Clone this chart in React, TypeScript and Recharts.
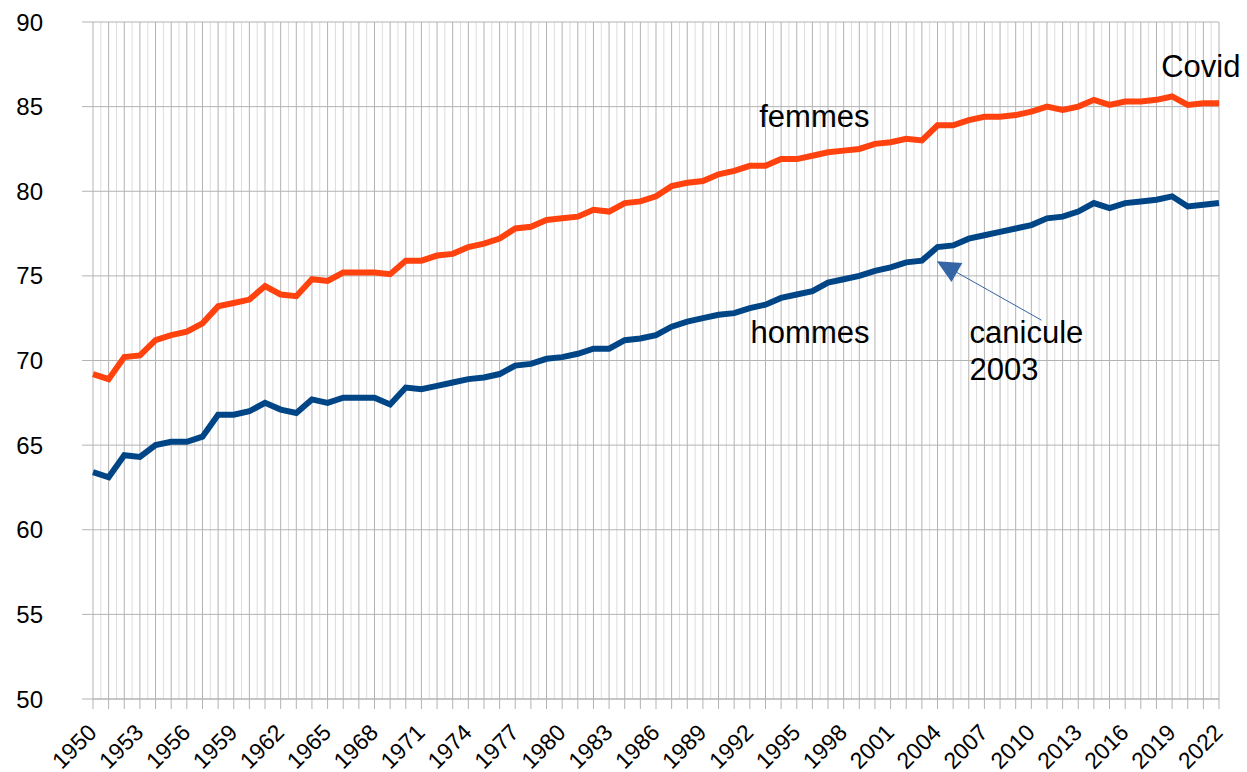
import React from 'react';
import {
  LineChart,
  Line,
  XAxis,
  YAxis,
  CartesianGrid,
  ReferenceDot,
  ReferenceLine,
} from 'recharts';

const FIRST_YEAR = 1950;
const LAST_YEAR = 2022;

const years: number[] = [];
for (let y = FIRST_YEAR; y <= LAST_YEAR; y++) years.push(y);

const halfYears: number[] = [];
for (let y = FIRST_YEAR; y < LAST_YEAR; y++) halfYears.push(y + 0.5);

const femmes = [
  69.2, 68.9, 70.2, 70.3, 71.2, 71.5, 71.7, 72.2, 73.2, 73.4,
  73.6, 74.4, 73.9, 73.8, 74.8, 74.7, 75.2, 75.2, 75.2, 75.1,
  75.9, 75.9, 76.2, 76.3, 76.7, 76.9, 77.2, 77.8, 77.9, 78.3,
  78.4, 78.5, 78.9, 78.8, 79.3, 79.4, 79.7, 80.3, 80.5, 80.6,
  81.0, 81.2, 81.5, 81.5, 81.9, 81.9, 82.1, 82.3, 82.4, 82.5,
  82.8, 82.9, 83.1, 83.0, 83.9, 83.9, 84.2, 84.4, 84.4, 84.5,
  84.7, 85.0, 84.8, 85.0, 85.4, 85.1, 85.3, 85.3, 85.4, 85.6,
  85.1, 85.2, 85.2,
];

const hommes = [
  63.4, 63.1, 64.4, 64.3, 65.0, 65.2, 65.2, 65.5, 66.8, 66.8,
  67.0, 67.5, 67.1, 66.9, 67.7, 67.5, 67.8, 67.8, 67.8, 67.4,
  68.4, 68.3, 68.5, 68.7, 68.9, 69.0, 69.2, 69.7, 69.8, 70.1,
  70.2, 70.4, 70.7, 70.7, 71.2, 71.3, 71.5, 72.0, 72.3, 72.5,
  72.7, 72.8, 73.1, 73.3, 73.7, 73.9, 74.1, 74.6, 74.8, 75.0,
  75.3, 75.5, 75.8, 75.9, 76.7, 76.8, 77.2, 77.4, 77.6, 77.8,
  78.0, 78.4, 78.5, 78.8, 79.3, 79.0, 79.3, 79.4, 79.5, 79.7,
  79.1, 79.2, 79.3,
];

const yTicks = [50, 55, 60, 65, 70, 75, 80, 85, 90];

// annotation anchors, in data space
const notes = [
  { text: 'femmes', x: 1992.6, y: 83.78 },
  { text: 'hommes', x: 1992.05, y: 71.02 },
  { text: 'canicule', x: 2006.05, y: 71.02 },
  { text: '2003', x: 2006.05, y: 68.84 },
  { text: 'Covid', x: 2018.3, y: 86.73 },
];
const arrowFrom = { x: 2010.65, y: 72.38 };
const arrowTo = { x: 2003.96, y: 75.87 };

const data = years.map((year, i) => ({ year, femmes: femmes[i], hommes: hommes[i] }));

const FONT = '"Liberation Sans", Arial, sans-serif';
const GRID_MAJOR = '#b3b3b3';
const GRID_MINOR = '#dddddd';

const XTick = (props: any) => {
  const { x, y, payload } = props;
  if ((payload.value - FIRST_YEAR) % 3 !== 0) return <g />;
  const ax = x + 5;
  const ay = y + 23;
  return (
    <text
      x={ax}
      y={ay}
      transform={`rotate(-45 ${ax} ${ay})`}
      textAnchor="end"
      fontSize={23}
      fontFamily={FONT}
      fill="#000"
    >
      {payload.value}
    </text>
  );
};

const Arrow = (props: any) => {
  const { x1, y1, x2, y2 } = props;
  const dx = x2 - x1;
  const dy = y2 - y1;
  const len = Math.sqrt(dx * dx + dy * dy) || 1;
  const ux = dx / len;
  const uy = dy / len;
  const headLen = 23;
  const half = 11;
  const bx = x2 - ux * headLen;
  const by = y2 - uy * headLen;
  const p1 = `${x2},${y2}`;
  const p2 = `${bx - uy * half},${by + ux * half}`;
  const p3 = `${bx + uy * half},${by - ux * half}`;
  return (
    <g>
      <line x1={x1} y1={y1} x2={bx} y2={by} stroke="#3465a4" strokeWidth={1} />
      <polygon points={`${p1} ${p2} ${p3}`} fill="#3465a4" />
    </g>
  );
};

export default function App() {
  return (
    <div style={{ position: 'absolute', left: 0, top: 0, background: '#fff' }}>
      <LineChart
        width={1247}
        height={772}
        data={data}
        margin={{ top: 22, right: 28, left: 0, bottom: 0 }}
        style={{ fontFamily: FONT }}
      >
        <CartesianGrid
          vertical={true}
          horizontal={false}
          verticalValues={halfYears}
          stroke={GRID_MINOR}
          strokeWidth={1}
        />
        <CartesianGrid stroke={GRID_MAJOR} strokeWidth={1} />
        <XAxis
          dataKey="year"
          type="number"
          domain={[FIRST_YEAR, LAST_YEAR]}
          ticks={years}
          interval={0}
          height={73}
          tickSize={10}
          tickMargin={2}
          stroke={GRID_MAJOR}
          tick={<XTick />}
        />
        <YAxis
          type="number"
          domain={[50, 90]}
          ticks={yTicks}
          interval={0}
          width={93}
          tickSize={11}
          tickMargin={39}
          axisLine={false}
          stroke={GRID_MAJOR}
          tick={{ fill: '#000', fontSize: 24, fontFamily: FONT }}
        />
        <Line
          type="linear"
          dataKey="femmes"
          stroke="#ff420e"
          strokeWidth={6}
          dot={false}
          isAnimationActive={false}
        />
        <Line
          type="linear"
          dataKey="hommes"
          stroke="#004586"
          strokeWidth={6}
          dot={false}
          isAnimationActive={false}
        />
        <ReferenceLine
          segment={[arrowFrom, arrowTo]}
          ifOverflow="visible"
          shape={(p: any) => <Arrow {...p} />}
        />
        {notes.map((n) => (
          <ReferenceDot
            key={n.text}
            x={n.x}
            y={n.y}
            r={0}
            ifOverflow="visible"
            shape={(p: any) => (
              <text x={p.cx} y={p.cy} fontSize={31} fontFamily={FONT} fill="#000">
                {n.text}
              </text>
            )}
          />
        ))}
      </LineChart>
    </div>
  );
}
